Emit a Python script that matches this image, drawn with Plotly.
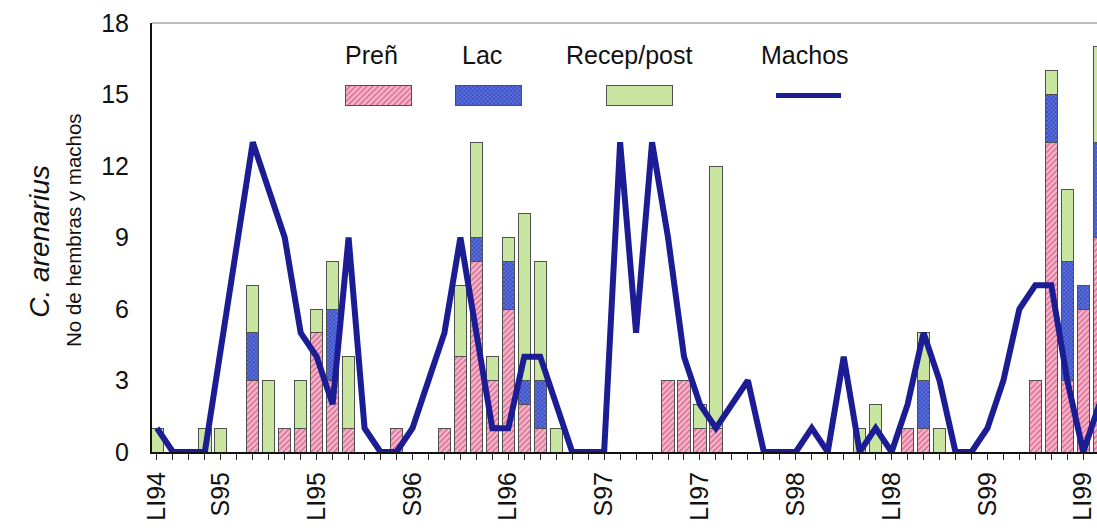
import plotly.graph_objects as go

# Monthly sampling index (0 = LI94 ... 59)
months = list(range(60))

# Females by reproductive state (counts per month)
pren = [0, 0, 0, 0, 0, 0, 3, 0, 1, 1, 5, 3, 1, 0, 0, 1, 0, 0, 1, 4,
        8, 3, 6, 2, 1, 0, 0, 0, 0, 0, 0, 0, 3, 3, 1, 1, 0, 0, 0, 0,
        0, 0, 0, 0, 0, 0, 0, 1, 1, 0, 0, 0, 0, 0, 0, 3, 13, 3, 6, 9]
lac = [0, 0, 0, 0, 0, 0, 2, 0, 0, 0, 0, 3, 0, 0, 0, 0, 0, 0, 0, 0,
       1, 0, 2, 1, 2, 0, 0, 0, 0, 0, 0, 0, 0, 0, 0, 0, 0, 0, 0, 0,
       0, 0, 0, 0, 0, 0, 0, 0, 2, 0, 0, 0, 0, 0, 0, 0, 2, 5, 1, 4]
recep = [1, 0, 0, 1, 1, 0, 2, 3, 0, 2, 1, 2, 3, 0, 0, 0, 0, 0, 0, 3,
         4, 1, 1, 7, 5, 1, 0, 0, 0, 0, 0, 0, 0, 0, 1, 11, 0, 0, 0, 0,
         0, 0, 0, 0, 1, 2, 0, 0, 2, 1, 0, 0, 0, 0, 0, 0, 1, 3, 0, 4]
# Males (None = month without a male count; the line joins across it)
machos = [1, 0, 0, 0, None, None, 13, 11, 9, 5, 4, 2, 9, 1, 0, 0, 1, 3, 5, 9,
          5, 1, 1, 4, 4, 2, 0, 0, 0, 13, 5, 13, 9, 4, 2, 1, 2, 3, 0, 0,
          0, 1, 0, 4, 0, 1, 0, 2, 5, 3, 0, 0, 1, 3, 6, 7, 7, 3, 0, 2]

# Season labels (LI = lluvias, S = secas)
tick_pos = [0, 4, 10, 16, 22, 28, 34, 40, 46, 52, 58]
tick_text = ["LI94", "S95", "LI95", "S96", "LI96", "S97", "LI97", "S98", "LI98", "S99", "LI99"]

series_names = ["Preñ", "Lac", "Recep/post", "Machos"]

FONT = "Liberation Sans, Arial, sans-serif"
PINK_BG, PINK_FG = "#F6B6CB", "#D8648C"
BLUE_BG, BLUE_FG = "#5A70DE", "#1E2A9A"
GREEN = "#C8E6A0"
NAVY = "#1C1C94"
EDGE = "#505050"

styles = {
    "Preñ": dict(pattern=dict(shape="/", fillmode="replace", bgcolor=PINK_BG, fgcolor=PINK_FG, size=4, solidity=0.35),
                 color=PINK_BG),
    "Lac": dict(pattern=dict(shape="x", fillmode="replace", bgcolor=BLUE_BG, fgcolor=BLUE_FG, size=3, solidity=0.3),
                color=BLUE_BG),
    "Recep/post": dict(color=GREEN),
}

fig = go.Figure()

for name, vals in zip(series_names[:3], [pren, lac, recep]):
    fig.add_trace(go.Bar(
        x=months, y=vals, name=name, width=0.77,
        marker=dict(line=dict(color=EDGE, width=1), **styles[name]),
    ))

fig.add_trace(go.Scatter(
    x=months, y=machos, name="Machos", mode="lines", connectgaps=True,
    line=dict(color=NAVY, width=6),
))

# Legend keys drawn on a small overlay axis (pixel-like units), text above each key
key_x = {"Preñ": 378.5, "Lac": 488.5, "Recep/post": 639.5}
for name in series_names[:3]:
    fig.add_trace(go.Bar(
        x=[key_x[name]], y=[1], width=[66], xaxis="x2", yaxis="y2",
        marker=dict(line=dict(color=EDGE, width=1), **styles[name]),
    ))
fig.add_trace(go.Scatter(
    x=[776, 841], y=[0.5, 0.5], xaxis="x2", yaxis="y2", mode="lines",
    line=dict(color=NAVY, width=5),
))

legend_text_x = [0.2328, 0.3492, 0.5058, 0.6910]
annotations = [
    dict(text=t, x=lx, y=0.925, xref="paper", yref="paper", showarrow=False,
         xanchor="center", yanchor="middle", font=dict(family=FONT, size=25, color="#111"))
    for t, lx in zip(series_names, legend_text_x)
]
annotations += [
    dict(text="<i>C. arenarius</i>", x=0, y=0.49, xref="paper", yref="paper", xshift=-112,
         showarrow=False, textangle=-90, xanchor="center", yanchor="middle",
         font=dict(family=FONT, size=28, color="#111")),
    dict(text="No de hembras y machos", x=0, y=0.5175, xref="paper", yref="paper", xshift=-78,
         showarrow=False, textangle=-90, xanchor="center", yanchor="middle",
         font=dict(family=FONT, size=20.5, color="#111")),
]

fig.update_layout(
    width=1097, height=531,
    margin=dict(l=152, r=0, t=23, b=79),
    paper_bgcolor="white", plot_bgcolor="white",
    barmode="stack", bargap=0.2, showlegend=False,
    font=dict(family=FONT, size=25, color="#111"),
    annotations=annotations,
    shapes=[dict(type="line", xref="paper", yref="paper", x0=0, x1=1, y0=1, y1=1,
                 line=dict(color="#7a7a7a", width=1.2))],
    xaxis=dict(
        range=[-0.31, 58.86], tickmode="array", tickvals=tick_pos, ticktext=tick_text,
        tickangle=-90, ticks="outside", ticklen=6, tickwidth=1, tickcolor="#222",
        showline=True, linecolor="#111", linewidth=2, showgrid=False, zeroline=False,
        ticklabelstandoff=2, tickfont=dict(family=FONT, size=25, color="#111"),
        minor=dict(dtick=1, tick0=0, ticks="outside", ticklen=6, tickwidth=1, tickcolor="#222", showgrid=False),
    ),
    yaxis=dict(
        range=[0, 18], tickvals=[0, 3, 6, 9, 12, 15, 18], ticks="", ticklabelstandoff=16,
        showline=True, linecolor="#111", linewidth=2, showgrid=False, zeroline=False,
        tickfont=dict(family=FONT, size=25, color="#111"),
    ),
    xaxis2=dict(domain=[0.1958, 0.7386], anchor="y2", range=[337, 850], visible=False),
    yaxis2=dict(domain=[0.8, 0.862], anchor="x2", range=[-0.15, 1.15], visible=False),
)

fig.write_html("out.html")
